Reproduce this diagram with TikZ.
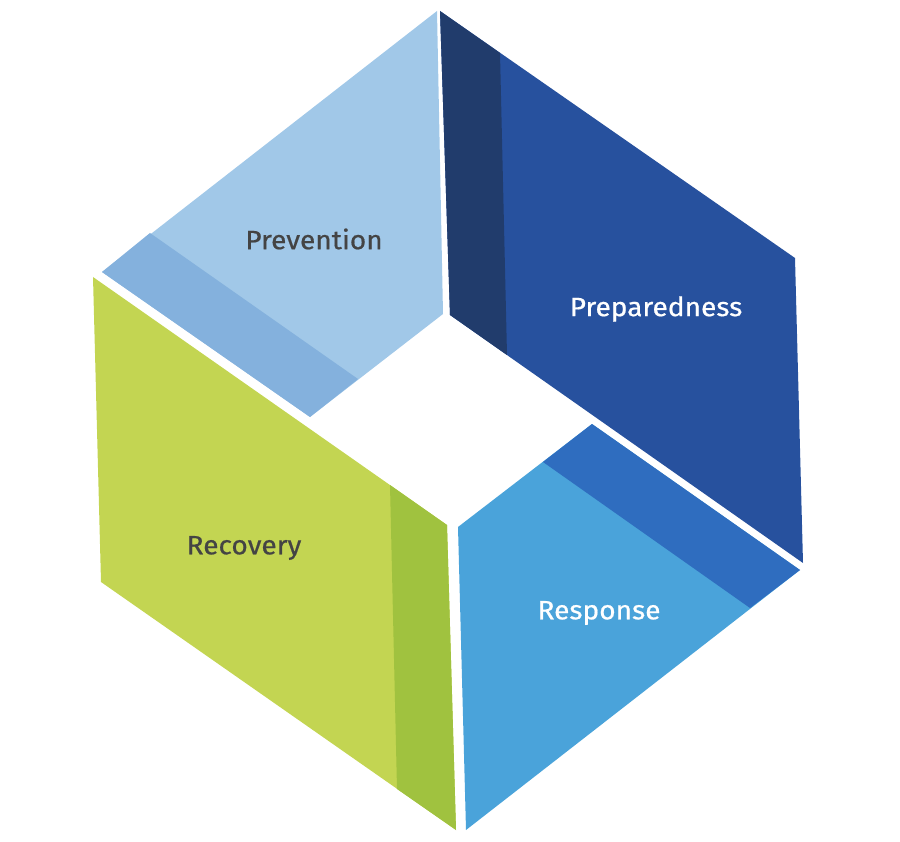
\documentclass[tikz,border=0pt]{standalone}
\usepackage{fontspec}
\setmainfont{Fira Sans}[FakeStretch=1.06,FakeBold=0.6]
\definecolor{prevL}{HTML}{A1C8E8}
\definecolor{prevD}{HTML}{84B1DD}
\definecolor{prepL}{HTML}{27519E}
\definecolor{prepD}{HTML}{213C6C}
\definecolor{respL}{HTML}{4AA3DA}
\definecolor{respD}{HTML}{2F6DBF}
\definecolor{recL}{HTML}{C3D552}
\definecolor{recD}{HTML}{A0C23F}
\definecolor{txtD}{HTML}{444444}
\tikzset{
  lbl/.style={font=\fontsize{26.5}{30}\selectfont, inner sep=0pt},
}
\begin{document}
\begin{tikzpicture}[x=1pt,y=-1pt]
\useasboundingbox (0,0) rectangle (900,842);
% Prevention
\fill[prevL] (437,11) -- (102,272) -- (310,417) -- (443,314) -- cycle;
\fill[prevD] (102,272) -- (150,233) -- (358,379) -- (310,417) -- cycle;
% Preparedness
\fill[prepL] (440,11) -- (795,258) -- (803,563) -- (450,315) -- cycle;
\fill[prepD] (440,11) -- (500,53) -- (507,355) -- (450,315) -- cycle;
% Response
\fill[respL] (458,527) -- (592,424) -- (800,570) -- (466,830) -- cycle;
\fill[respD] (592,424) -- (800,570) -- (750,608) -- (543,462) -- cycle;
% Recovery
\fill[recL] (93,277) -- (447,525) -- (456,830) -- (101,582) -- cycle;
\fill[recD] (390,485) -- (447,525) -- (456,830) -- (397,789) -- cycle;
% Labels
\node[lbl, text=txtD] (prev) at (314,239) {Prevention};
\node[lbl, text=white] (prep) at (656,309) {Preparedness};
\node[lbl, text=white] (resp) at (599,613) {Response};
\node[lbl, text=txtD] (rec) at (244,548) {Recovery};
\end{tikzpicture}
\end{document}
